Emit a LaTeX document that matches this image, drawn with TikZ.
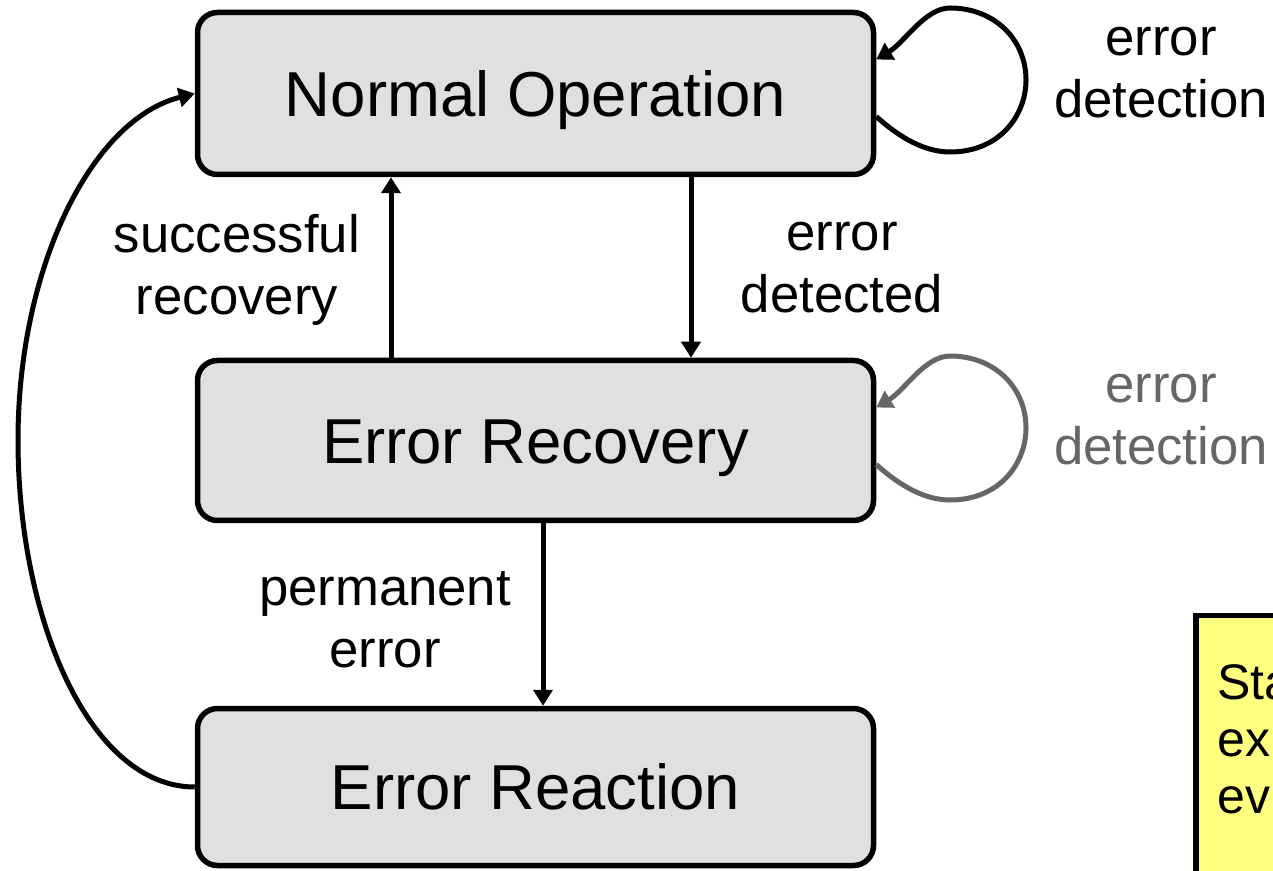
\documentclass[tikz,border=0pt]{standalone}
\usepackage{fontspec}
\setmainfont{Liberation Sans}
\usetikzlibrary{arrows.meta}
\definecolor{boxgray}{HTML}{DFE0E2}
\definecolor{loopgray}{HTML}{666666}
\definecolor{noteyellow}{HTML}{FFFF80}
\begin{document}
\begin{tikzpicture}[x=1pt,y=1pt,
 state/.style={draw, line width=5.5pt, fill=boxgray, rounded corners=20pt, minimum width=676pt, inner sep=0pt,
   font=\fontsize{63.5}{76}\selectfont, text height=45.5pt, text depth=0pt},
 conn/.style={line width=5pt, -{Triangle[length=16pt,width=19pt]}},
 lbl/.style={align=center, inner sep=0pt, font=\fontsize{52.7}{62}\selectfont},
]
\useasboundingbox (0,0) rectangle (1273,870);
% note box (cut off at the picture edge)
\draw[line width=5.5pt, fill=noteyellow] (1196,254.5) rectangle (1320,-20);
\node[anchor=base west, align=left, inner sep=0pt, font=\fontsize{50}{57}\selectfont] (notetext) at (1217,57) {Sta\\ex\\ev};
% states
\node[state, minimum height=162pt] (no) at (535.5,776.5) {Normal Operation};
\node[state, minimum height=160pt] (rec) at (535.5,429.5) {Error Recovery};
\node[state, minimum height=157pt] (rea) at (535.5,83) {Error Reaction};
% labels
\node[lbl, anchor=base] (succ) at (237,555) {successful\\recovery};
\node[lbl, anchor=base] (det) at (842,557) {error\\detected};
\node[lbl, anchor=base] (perm) at (385,202) {permanent\\error};
\node[lbl, anchor=base] (loopA) at (1161,752) {error\\detection};
\node[lbl, anchor=base, text=loopgray] (loopB) at (1161,405) {error\\detection};
% transitions
\draw[conn] ([xshift=-144.5pt]rec.north) -- ([xshift=-144.5pt]no.south);
\draw[conn] ([xshift=155.5pt]no.south) -- ([xshift=155.5pt]rec.north);
\draw[conn] ([xshift=7.5pt]rec.south) -- ([xshift=7.5pt]rea.north);
\draw[conn] (rea.west) .. controls (90,83) and (18,250) .. (18,430)
  .. controls (18,600) and (90,750) .. (no.west);
% self loops
\draw[conn] ([yshift=-23pt]no.east) .. controls (900,732) and (925,718) .. (950,718)
  .. controls (1000,718) and (1026,755) .. (1026,790)
  .. controls (1026,830) and (995,862) .. (950,862)
  .. controls (925,862) and (905,828) .. ([yshift=34pt]no.east);
\draw[conn, draw=loopgray] ([yshift=-24pt]rec.east) .. controls (900,384) and (925,370) .. (950,370)
  .. controls (1000,370) and (1026,407) .. (1026,442)
  .. controls (1026,482) and (995,514) .. (950,514)
  .. controls (925,514) and (905,480) .. ([yshift=33pt]rec.east);
\end{tikzpicture}
\end{document}
